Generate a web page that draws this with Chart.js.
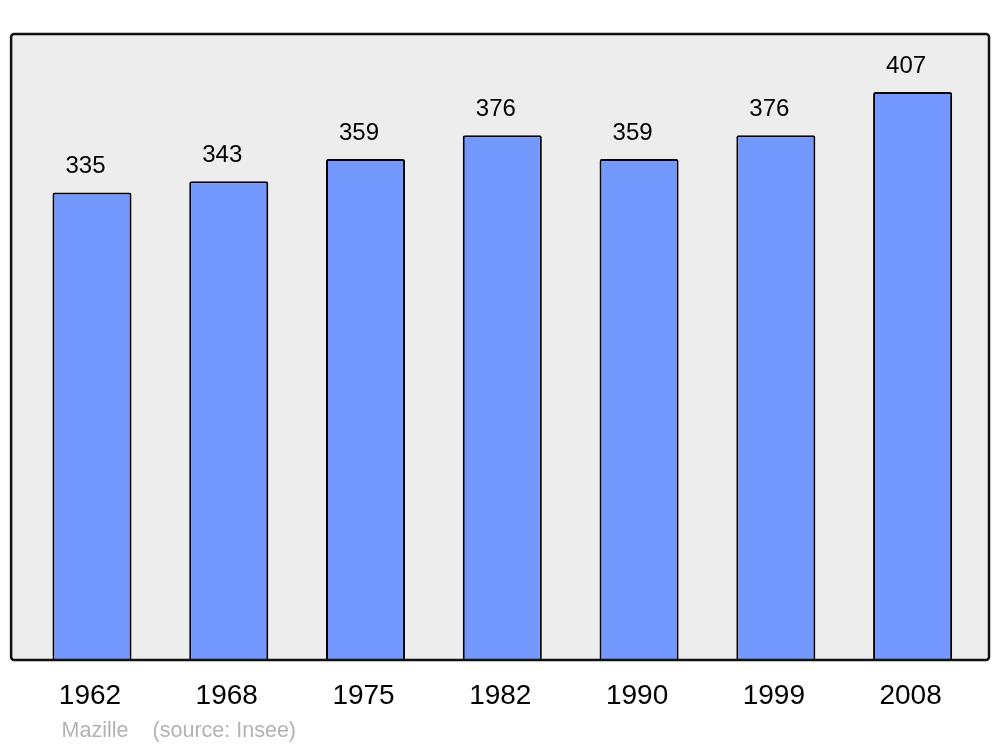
<!DOCTYPE html>
<html><head><meta charset="utf-8">
<script src="https://cdn.jsdelivr.net/npm/chart.js@4/dist/chart.umd.min.js"></script>
<style>html,body{margin:0;padding:0;background:#fff}#wrap{width:1000px;height:747px}</style>
</head><body><div id="wrap"><canvas id="c" width="1000" height="747"></canvas></div>
<script>
const categories = ["1962","1968","1975","1982","1990","1999","2008"];
const population = [335,343,359,376,359,376,407];
const footerName = "Mazille";
const footerSource = "(source: Insee)";

const FONT = "'Liberation Sans', Arial, sans-serif";

const framePlugin = {
  id: 'frame',
  beforeDraw(chart) {
    const {ctx, chartArea: a} = chart;
    const l = a.left - 12.5, r = a.right + 8, t = a.top, b = a.bottom;
    ctx.save();
    ctx.beginPath();
    ctx.roundRect(l, t, r - l, b - t, 3);
    ctx.fillStyle = '#ededed';
    ctx.fill();
    ctx.restore();
  },
  afterDatasetsDraw(chart) {
    const {ctx, chartArea: a} = chart;
    const l = a.left - 12.5, r = a.right + 8, t = a.top, b = a.bottom;
    ctx.save();
    ctx.beginPath();
    ctx.roundRect(l, t, r - l, b - t, 3);
    ctx.lineWidth = 2.5;
    ctx.strokeStyle = '#111';
    ctx.stroke();
    // value labels
    const meta = chart.getDatasetMeta(0);
    ctx.fillStyle = '#000';
    ctx.font = '24px ' + FONT;
    ctx.textAlign = 'center';
    ctx.textBaseline = 'alphabetic';
    meta.data.forEach((bar, i) => {
      ctx.fillText(String(chart.data.datasets[0].data[i]), bar.x - 6.5, bar.y - 19);
    });
    // footer
    ctx.fillStyle = '#b3b3b3';
    ctx.font = '21.5px ' + FONT;
    ctx.textAlign = 'left';
    ctx.fillText(footerName, a.left + 38, a.bottom + 77);
    ctx.fillText(footerSource, a.left + 129, a.bottom + 77);
    ctx.restore();
  }
};

new Chart(document.getElementById('c'), {
  type: 'bar',
  data: {
    labels: categories,
    datasets: [{
      data: population,
      backgroundColor: '#7399ff',
      borderColor: '#000',
      borderWidth: 2,
      borderSkipped: 'bottom',
      borderRadius: {topLeft: 2, topRight: 2},
      barPercentage: 0.578,
      categoryPercentage: 1
    }]
  },
  options: {
    responsive: false,
    animation: false,
    devicePixelRatio: 1,
    layout: {padding: {left: 23.6, right: 19, top: 34, bottom: 0}},
    plugins: {legend: {display: false}, tooltip: {enabled: false}, title: {display: false}},
    scales: {
      x: {
        grid: {display: false},
        border: {display: false},
        ticks: {color: '#000', font: {size: 28, family: FONT}, padding: 11, labelOffset: -2, maxRotation: 0},
        afterFit(scale) { scale.height = 87; }
      },
      y: {
        display: false,
        min: 0,
        max: 448.5
      }
    }
  },
  plugins: [framePlugin]
});
</script></body></html>
